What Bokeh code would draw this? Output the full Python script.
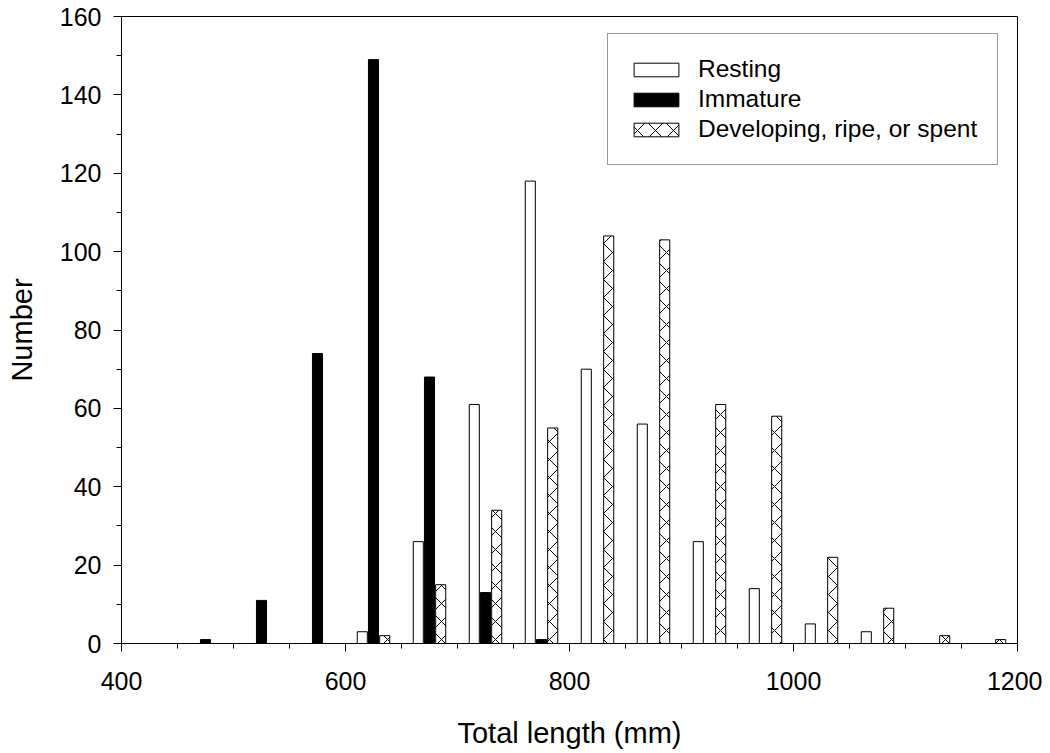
from bokeh.plotting import figure
from bokeh.models import Range1d, FixedTicker, Legend, LegendItem, ColumnDataSource
from bokeh.transform import dodge
from bokeh.embed import file_html
from bokeh.resources import INLINE

# Length bins (mm, bin centres) and counts per maturity stage
bins = [475, 525, 575, 625, 675, 725, 775, 825, 875, 925, 975, 1025, 1075, 1125, 1175]
resting = [0, 0, 0, 3, 26, 61, 118, 70, 56, 26, 14, 5, 3, 0, 0]
immature = [1, 11, 74, 149, 68, 13, 1, 0, 0, 0, 0, 0, 0, 0, 0]
developing = [0, 0, 0, 2, 15, 34, 55, 104, 103, 61, 58, 22, 9, 2, 1]

x_ticks = [400, 600, 800, 1000, 1200]
y_ticks = [0, 20, 40, 60, 80, 100, 120, 140, 160]

FONT = "Liberation Sans"


def source(values):
    b = [x for x, v in zip(bins, values) if v > 0]
    n = [v for v in values if v > 0]
    return ColumnDataSource(data=dict(bin=b, n=n))


p = figure(frame_width=896, frame_height=627, output_backend="svg", toolbar_location=None,
           x_range=Range1d(400, 1200), y_range=Range1d(0, 160),
           min_border_left=121, min_border_right=25, min_border_top=16, min_border_bottom=102)
p.background_fill_color = "white"
p.border_fill_color = "white"
p.outline_line_color = "black"
p.outline_line_width = 1
p.outline_line_alpha = 1
p.xgrid.visible = False
p.ygrid.visible = False

bw = 9
r_rest = p.vbar(x=dodge("bin", -10, range=p.x_range), top="n", width=bw, bottom=0,
                source=source(resting), fill_color="white", line_color="black", line_width=1)
r_imm = p.vbar(x=dodge("bin", 0, range=p.x_range), top="n", width=bw, bottom=0,
               source=source(immature), fill_color="black", line_color="black", line_width=1)
r_dev = p.vbar(x=dodge("bin", 10, range=p.x_range), top="n", width=bw, bottom=0,
               source=source(developing), fill_color="white", line_color="black", line_width=1,
               hatch_pattern="x", hatch_color="black", hatch_scale=18, hatch_weight=1)

p.xaxis.ticker = FixedTicker(ticks=x_ticks, minor_ticks=list(range(400, 1201, 50)))
p.yaxis.ticker = FixedTicker(ticks=y_ticks, minor_ticks=list(range(0, 161, 10)))

for ax in (p.xaxis, p.yaxis):
    ax.axis_line_color = "black"
    ax.axis_line_width = 1
    ax.major_tick_line_color = "black"
    ax.minor_tick_line_color = "black"
    ax.major_tick_in = 0
    ax.major_tick_out = 8
    ax.minor_tick_in = 0
    ax.minor_tick_out = 5
    ax.major_label_text_font = FONT
    ax.major_label_text_font_size = "25px"
    ax.major_label_text_color = "black"
    ax.axis_label_text_font = FONT
    ax.axis_label_text_font_size = "29px"
    ax.axis_label_text_font_style = "normal"
    ax.axis_label_text_color = "black"

p.xaxis.axis_label = "Total length (mm)"
p.yaxis.axis_label = "Number"
p.xaxis.major_label_standoff = 20
p.yaxis.major_label_standoff = 12
p.xaxis.axis_label_standoff = 24
p.yaxis.axis_label_standoff = 19

legend = Legend(items=[LegendItem(label="Resting", renderers=[r_rest]),
                       LegendItem(label="Immature", renderers=[r_imm]),
                       LegendItem(label="Developing, ripe, or spent", renderers=[r_dev])],
                location=(486, 478), padding=20, spacing=0, margin=0,
                glyph_width=56, glyph_height=17, label_height=30, label_standoff=14,
                label_text_font=FONT, label_text_font_size="24.5px", label_text_color="black",
                border_line_color="#333333", border_line_width=1,
                background_fill_color="white", background_fill_alpha=1)
p.add_layout(legend, "center")

open("out.html", "w").write(file_html(p, INLINE))
